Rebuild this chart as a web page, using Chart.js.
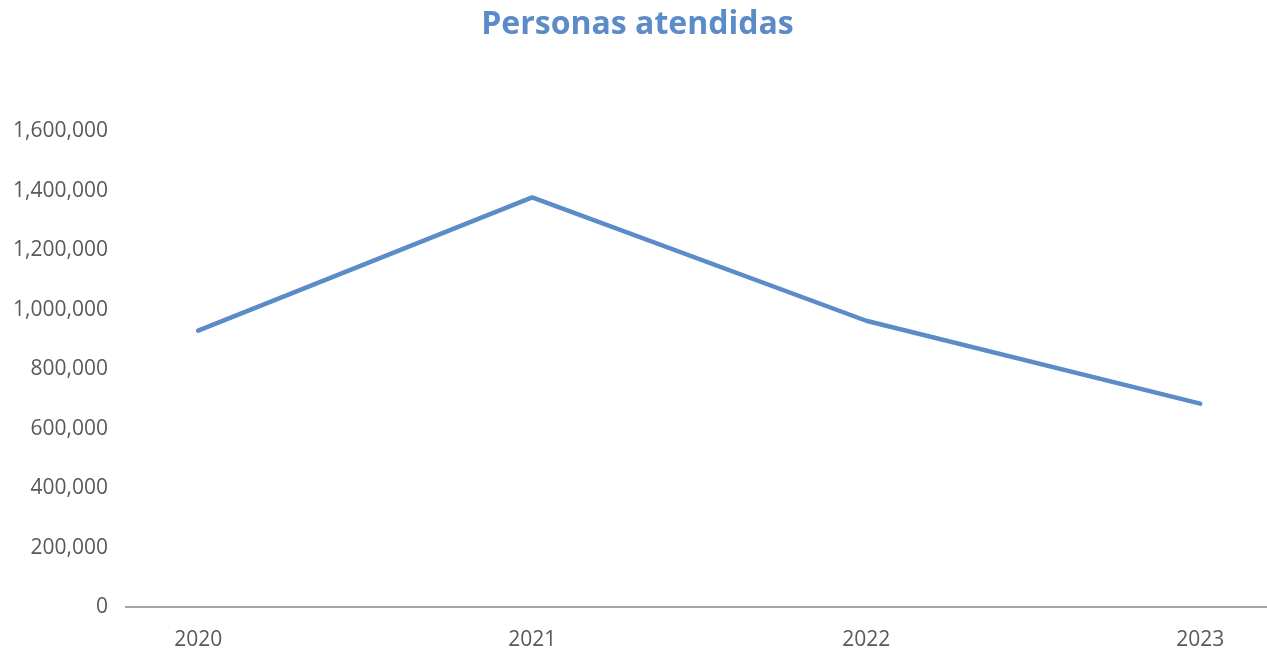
<!DOCTYPE html>
<html>
<head>
<meta charset="utf-8">
<script src="https://cdn.jsdelivr.net/npm/chart.js@4/dist/chart.umd.min.js"></script>
<style>
  html, body { margin: 0; padding: 0; background: #fff; }
  #wrap { width: 1267px; height: 652px; }
</style>
</head>
<body>
<div id="wrap"><canvas id="personas"></canvas></div>
<script>
// datos
var years = [2020, 2021, 2022, 2023];
var personas = [930000, 1378000, 963000, 684000];
var yTicks = [0, 200000, 400000, 600000, 800000, 1000000, 1200000, 1400000, 1600000];

var points = years.map(function(y, i) {
    return { x: y, y: personas[i] };
});

var ctx = document.getElementById('personas').getContext('2d');
var chart = new Chart(ctx, {
    type: 'line',
    data: {
        datasets: [{
            label: 'Personas atendidas',
            data: points,
            borderColor: '#5B8BC9',
            borderWidth: 4.5,
            pointRadius: 0,
            tension: 0,
            borderCapStyle: 'round',
            borderJoinStyle: 'round'
        }]
    },
    options: {
        responsive: true,
        maintainAspectRatio: false,
        animation: false,
        layout: { padding: { left: 8, right: 0, top: 6, bottom: 0 } },
        plugins: {
            legend: { display: false },
            tooltip: { enabled: false },
            title: {
                display: true,
                text: 'Personas atendidas',
                color: '#5B8BC9',
                font: { family: 'Open Sans', size: 32, weight: 'bold' },
                padding: { top: 0, bottom: 87 }
            }
        },
        scales: {
            x: {
                type: 'linear',
                min: 2019.784,
                max: 2023.2,
                afterBuildTicks: function(axis) {
                    axis.ticks = years.map(function(v) { return { value: v }; });
                },
                afterFit: function(axis) { axis.height = 45; },
                ticks: {
                    color: '#595959',
                    font: { family: 'Open Sans', size: 21 },
                    padding: 20,
                    maxRotation: 0,
                    callback: function(v) { return String(v); }
                },
                grid: { display: false, drawTicks: false },
                border: { display: true, color: '#A6A6A6', width: 2 }
            },
            y: {
                min: 0,
                max: 1600000,
                afterBuildTicks: function(axis) {
                    axis.ticks = yTicks.map(function(v) { return { value: v }; });
                },
                afterFit: function(axis) { axis.width = 118; },
                ticks: {
                    color: '#595959',
                    font: { family: 'Open Sans', size: 21 },
                    padding: 18,
                    callback: function(v) { return v.toLocaleString('en-US'); }
                },
                grid: { display: false, drawTicks: false },
                border: { display: false }
            }
        }
    }
});
</script>
</body>
</html>
